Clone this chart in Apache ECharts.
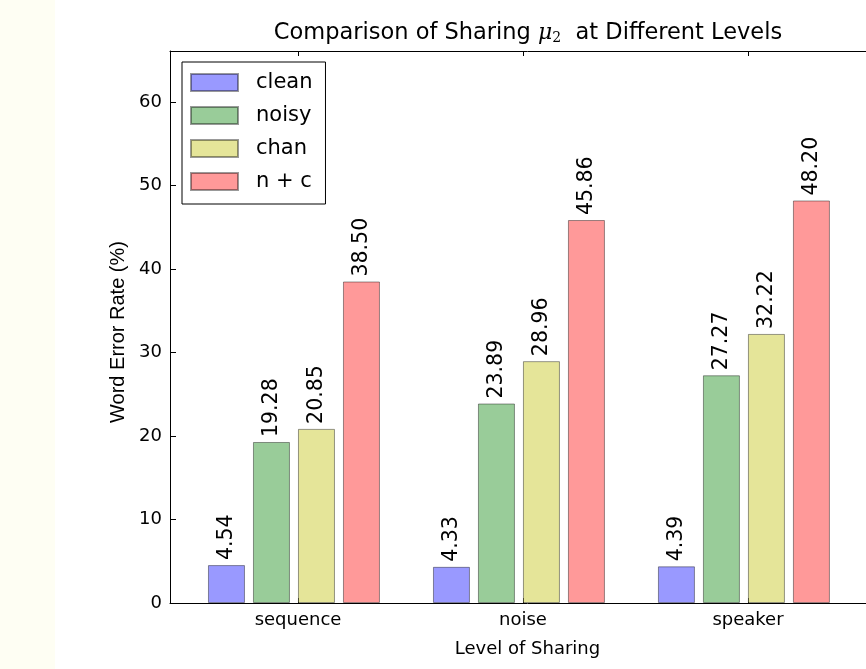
<!DOCTYPE html>
<html>
<head>
<meta charset="utf-8">
<style>
  html, body { margin: 0; padding: 0; overflow: hidden; background: #ffffff; }
  #chart { width: 900px; height: 669px; }
</style>
<script src="https://cdn.jsdelivr.net/npm/echarts@6/dist/echarts.min.js"></script>
</head>
<body>
<div id="chart"></div>
<script>
// Word error rate per sharing level, one array per condition
const categories = ['sequence', 'noise', 'speaker'];
const seriesNames = ['clean', 'noisy', 'chan', 'n + c'];
const clean = [4.54, 4.33, 4.39];
const noisy = [19.28, 23.89, 27.27];
const chan = [20.85, 28.96, 32.22];
const nPlusC = [38.50, 45.86, 48.20];
const yTicks = [0, 10, 20, 30, 40, 50, 60];

const values = [clean, noisy, chan, nPlusC];
const fills = ['#9999ff', '#99cc99', '#e5e599', '#ff9999'];
// bar centre offsets within a group, in category units
const groupOffsets = [-0.318, -0.118, 0.082, 0.282];
const catIndex = categories.map((c, i) => i);

const font = 'DejaVu Sans';

const chart = echarts.init(document.getElementById('chart'), null, { renderer: 'canvas' });

const series = seriesNames.map((name, s) => ({
  name: name,
  type: 'bar',
  xAxisIndex: 0,
  barWidth: 37,
  barGap: '-100%',
  itemStyle: {
    color: fills[s],
    borderColor: 'rgba(0,0,0,0.4)',
    borderWidth: 1
  },
  label: {
    show: true,
    position: 'top',
    rotate: 90,
    align: 'left',
    verticalAlign: 'middle',
    distance: 5,
    fontFamily: font,
    fontSize: 20.5,
    color: '#000',
    formatter: p => p.value[1].toFixed(2)
  },
  emphasis: { disabled: true },
  data: values[s].map((v, i) => [catIndex[i] + groupOffsets[s], v])
}));

const option = {
  backgroundColor: '#ffffff',
  animation: false,
  grid: { left: 170, right: 15, top: 51, bottom: 66, containLabel: false },
  graphic: [
    {
      type: 'rect',
      shape: { x: 0, y: 0, width: 55, height: 669 },
      style: { fill: '#fefef3' },
      silent: true,
      z: -10
    },
    {
      type: 'text',
      x: 528,
      y: 33,
      style: {
        text: '{a|Comparison of Sharing }{mu|μ}{sub|2}{a|  at Different Levels}',
        align: 'center',
        verticalAlign: 'middle',
        rich: {
          a: { fontFamily: font, fontSize: 22.5, fill: '#000' },
          mu: { fontFamily: 'DejaVu Serif', fontStyle: 'italic', fontSize: 22, fill: '#000' },
          sub: { fontFamily: 'DejaVu Serif', fontSize: 14, fill: '#000', padding: [10, 0, 0, 0] }
        }
      }
    }
  ],
  legend: {
    orient: 'vertical',
    left: 182,
    top: 62,
    icon: 'rect',
    itemWidth: 47,
    itemHeight: 17,
    itemGap: 12,
    padding: [10, 13, 12, 8],
    borderColor: '#000',
    borderWidth: 1,
    borderRadius: 0,
    backgroundColor: '#fff',
    selectedMode: false,
    textStyle: { fontFamily: font, fontSize: 21, color: '#000', padding: [0, 0, 0, 13] },
    data: seriesNames
  },
  xAxis: [
    {
      type: 'value',
      position: 'bottom',
      min: -0.569,
      max: 2.609,
      name: 'Level of Sharing',
      nameLocation: 'middle',
      nameGap: 37,
      nameTextStyle: { fontFamily: font, fontSize: 18, color: '#000' },
      splitLine: { show: false },
      axisLine: { show: true, onZero: false, lineStyle: { color: '#000', width: 1 } },
      axisTick: { show: true, inside: true, length: 5, customValues: catIndex, lineStyle: { color: '#000' } },
      axisLabel: {
        customValues: catIndex,
        formatter: v => categories[Math.round(v)],
        fontFamily: font, fontSize: 18, color: '#000', margin: 8
      }
    },
    {
      type: 'value',
      position: 'top',
      min: -0.569,
      max: 2.609,
      splitLine: { show: false },
      axisLine: { show: true, onZero: false, lineStyle: { color: '#000', width: 1 } },
      axisTick: { show: true, inside: true, length: 5, customValues: catIndex, lineStyle: { color: '#000' } },
      axisLabel: { show: false }
    }
  ],
  yAxis: {
    type: 'value',
    position: 'left',
    min: 0,
    max: 66.1,
    name: 'Word Error Rate (%)',
    nameLocation: 'middle',
    nameRotate: 90,
    nameGap: 41,
    nameTextStyle: { fontFamily: 'Liberation Sans', fontSize: 20, color: '#000', padding: [0, 10, 0, 0] },
    splitLine: { show: false },
    axisLine: { show: true, onZero: false, lineStyle: { color: '#000', width: 1 } },
    axisTick: { show: true, inside: true, length: 6, customValues: yTicks, lineStyle: { color: '#000' } },
    axisLabel: { customValues: yTicks, fontFamily: font, fontSize: 18, color: '#000', margin: 8 }
  },
  series: series
};

chart.setOption(option);
</script>
</body>
</html>
